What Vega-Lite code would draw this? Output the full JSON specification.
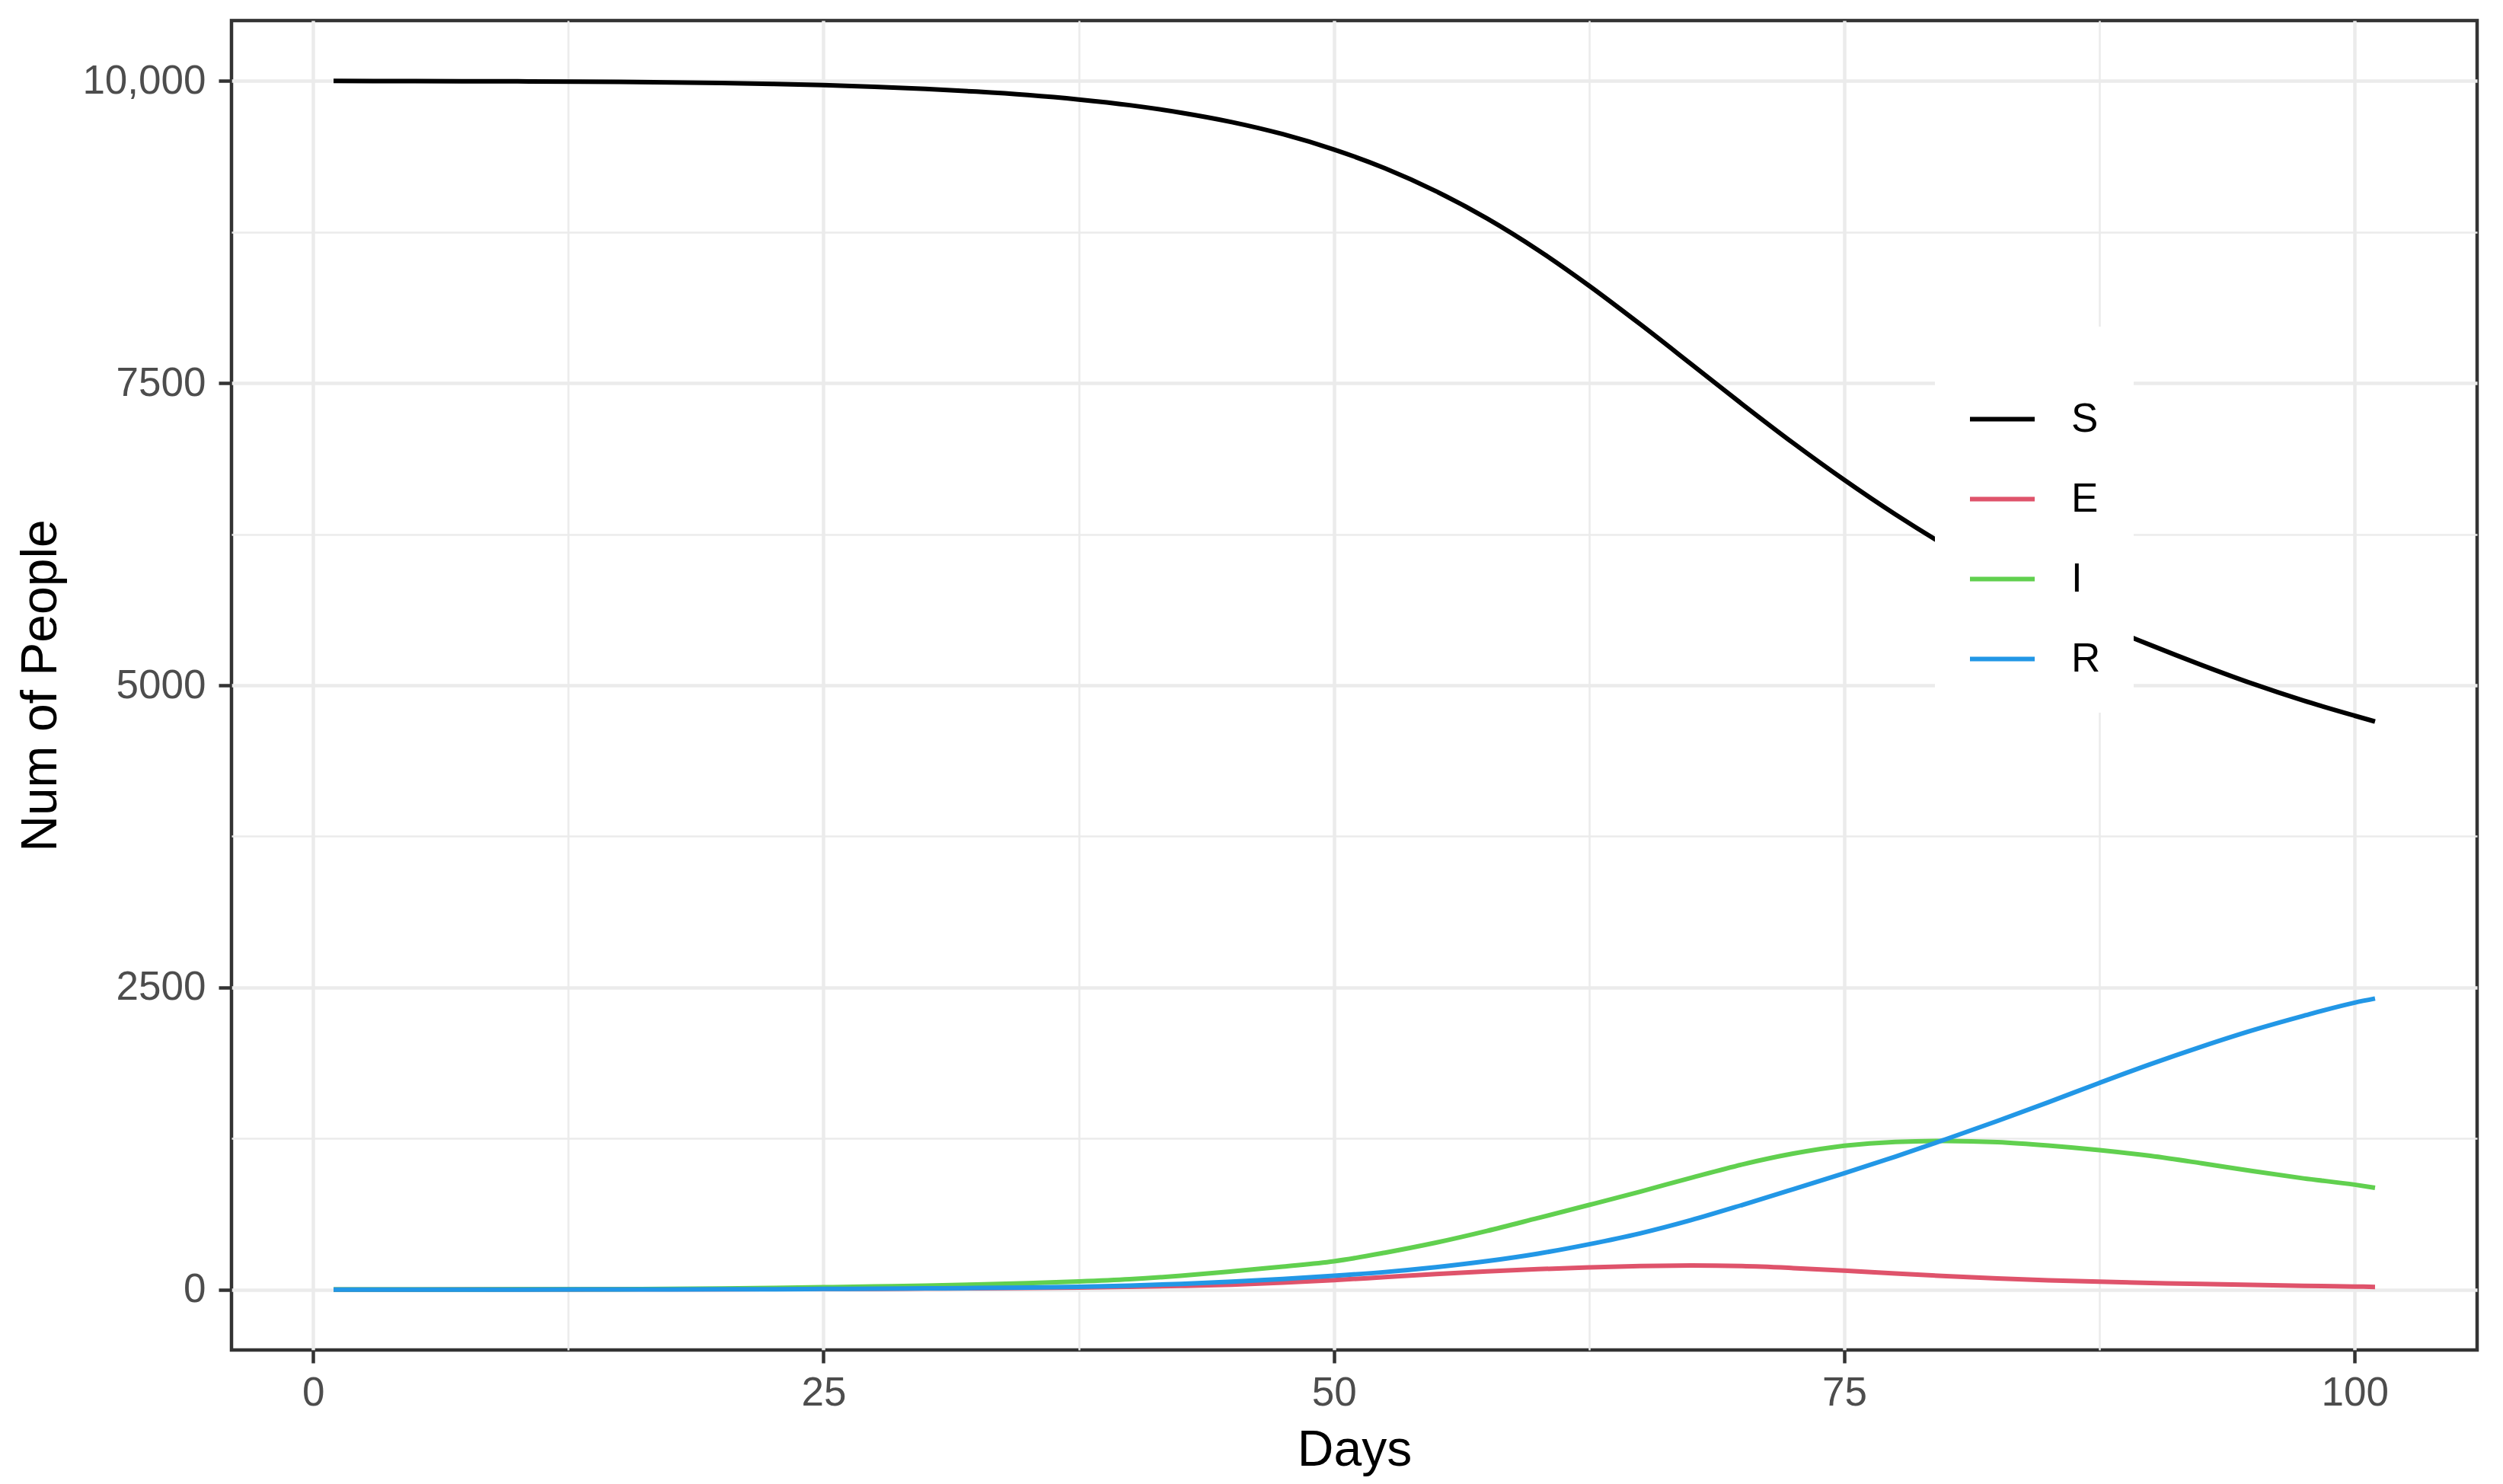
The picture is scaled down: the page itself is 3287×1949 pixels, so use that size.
{
  "$schema": "https://vega.github.io/schema/vega-lite/v6.json",
  "width": 2949,
  "height": 1746,
  "autosize": {"type": "none"},
  "padding": {"left": 304, "top": 27, "right": 34, "bottom": 176},
  "background": "white",
  "config": {
    "font": "Liberation Sans",
    "view": {"stroke": "#333333", "strokeWidth": 4.5}
  },
  "data": {
    "values": [
      {"day": 1, "S": 10000, "E": 0, "I": 1, "R": 0},
      {"day": 5, "S": 9999, "E": 0, "I": 1, "R": 0},
      {"day": 10, "S": 9997, "E": 1, "I": 2, "R": 0},
      {"day": 15, "S": 9993, "E": 2, "I": 3, "R": 1},
      {"day": 20, "S": 9984, "E": 3, "I": 8, "R": 2},
      {"day": 22.5, "S": 9976, "E": 4, "I": 13, "R": 3},
      {"day": 25, "S": 9966, "E": 5, "I": 19, "R": 5},
      {"day": 27.5, "S": 9952, "E": 6, "I": 26, "R": 7},
      {"day": 30, "S": 9934, "E": 8, "I": 33, "R": 10},
      {"day": 32.5, "S": 9912, "E": 10, "I": 42, "R": 13},
      {"day": 35, "S": 9884, "E": 13, "I": 53, "R": 17},
      {"day": 37.5, "S": 9847, "E": 17, "I": 67, "R": 23},
      {"day": 40, "S": 9800, "E": 23, "I": 86, "R": 33},
      {"day": 42.5, "S": 9738, "E": 30, "I": 114, "R": 47},
      {"day": 45, "S": 9660, "E": 40, "I": 150, "R": 66},
      {"day": 47.5, "S": 9560, "E": 57, "I": 190, "R": 88},
      {"day": 50, "S": 9433, "E": 78, "I": 234, "R": 114},
      {"day": 52.5, "S": 9278, "E": 103, "I": 305, "R": 145},
      {"day": 55, "S": 9088, "E": 128, "I": 388, "R": 185},
      {"day": 57.5, "S": 8863, "E": 150, "I": 485, "R": 235},
      {"day": 60, "S": 8601, "E": 169, "I": 592, "R": 297},
      {"day": 62.5, "S": 8306, "E": 184, "I": 700, "R": 375},
      {"day": 65, "S": 7988, "E": 195, "I": 810, "R": 465},
      {"day": 67.5, "S": 7658, "E": 199, "I": 925, "R": 575},
      {"day": 70, "S": 7326, "E": 194, "I": 1035, "R": 700},
      {"day": 72.5, "S": 7004, "E": 178, "I": 1125, "R": 830},
      {"day": 75, "S": 6699, "E": 157, "I": 1190, "R": 962},
      {"day": 77.5, "S": 6414, "E": 133, "I": 1222, "R": 1100},
      {"day": 80, "S": 6152, "E": 111, "I": 1230, "R": 1245},
      {"day": 82.5, "S": 5914, "E": 92, "I": 1220, "R": 1395},
      {"day": 85, "S": 5700, "E": 77, "I": 1192, "R": 1550},
      {"day": 87.5, "S": 5508, "E": 65, "I": 1154, "R": 1710},
      {"day": 90, "S": 5333, "E": 55, "I": 1106, "R": 1865},
      {"day": 92.5, "S": 5168, "E": 46, "I": 1045, "R": 2010},
      {"day": 95, "S": 5013, "E": 38, "I": 980, "R": 2145},
      {"day": 97.5, "S": 4873, "E": 31, "I": 920, "R": 2265},
      {"day": 100, "S": 4748, "E": 25, "I": 868, "R": 2374},
      {"day": 101, "S": 4700, "E": 22, "I": 842, "R": 2408}
    ]
  },
  "transform": [{"fold": ["S", "E", "I", "R"], "as": ["compartment", "n"]}],
  "mark": {"type": "line", "strokeWidth": 6, "interpolate": "monotone"},
  "encoding": {
    "x": {
      "field": "day",
      "type": "quantitative",
      "scale": {"domain": [-4, 106], "nice": false, "zero": false},
      "axis": {
        "title": "Days",
        "values": [0, 12.5, 25, 37.5, 50, 62.5, 75, 87.5, 100],
        "labelExpr": "datum.value % 25 === 0 ? '' + datum.value : ''",
        "gridColor": "#EBEBEB",
        "gridWidth": {"condition": {"test": "datum.value % 25 === 0", "value": 4.5}, "value": 2.5},
        "tickOpacity": {"condition": {"test": "datum.value % 25 === 0", "value": 1}, "value": 0},
        "tickColor": "#333333",
        "tickWidth": 4.5,
        "tickSize": 17,
        "domain": false,
        "labelFontSize": 53,
        "labelColor": "#4D4D4D",
        "labelPadding": 13,
        "labelFlush": false,
        "labelOverlap": false,
        "titleFontSize": 66,
        "titleFontWeight": "normal",
        "titleColor": "#000000",
        "titlePadding": 16
      }
    },
    "y": {
      "field": "n",
      "type": "quantitative",
      "scale": {"domain": [-500, 10500], "nice": false, "zero": false},
      "axis": {
        "title": "Num of People",
        "values": [0, 1250, 2500, 3750, 5000, 6250, 7500, 8750, 10000],
        "labelExpr": "datum.value === 10000 ? '10,000' : (datum.value % 2500 === 0 ? '' + datum.value : '')",
        "gridColor": "#EBEBEB",
        "gridWidth": {"condition": {"test": "datum.value % 2500 === 0", "value": 4.5}, "value": 2.5},
        "tickOpacity": {"condition": {"test": "datum.value % 2500 === 0", "value": 1}, "value": 0},
        "tickColor": "#333333",
        "tickWidth": 4.5,
        "tickSize": 17,
        "domain": false,
        "labelFontSize": 53,
        "labelColor": "#4D4D4D",
        "labelPadding": 17,
        "labelOverlap": false,
        "labelFlush": false,
        "titleFontSize": 66,
        "titleFontWeight": "normal",
        "titleColor": "#000000",
        "titlePadding": 20
      }
    },
    "color": {
      "field": "compartment",
      "type": "nominal",
      "scale": {"domain": ["S", "E", "I", "R"], "range": ["#000000", "#DF536B", "#61D04F", "#2297E6"]},
      "legend": {
        "orient": "none",
        "legendX": 2237,
        "legendY": 402,
        "title": " ",
        "titleFontSize": 28,
        "titlePadding": 5,
        "padding": 43,
        "fillColor": "white",
        "symbolType": "stroke",
        "symbolSize": 7225,
        "symbolStrokeWidth": 6,
        "labelFontSize": 53,
        "labelColor": "#000000",
        "labelOffset": 45,
        "rowPadding": 32
      }
    }
  }
}
